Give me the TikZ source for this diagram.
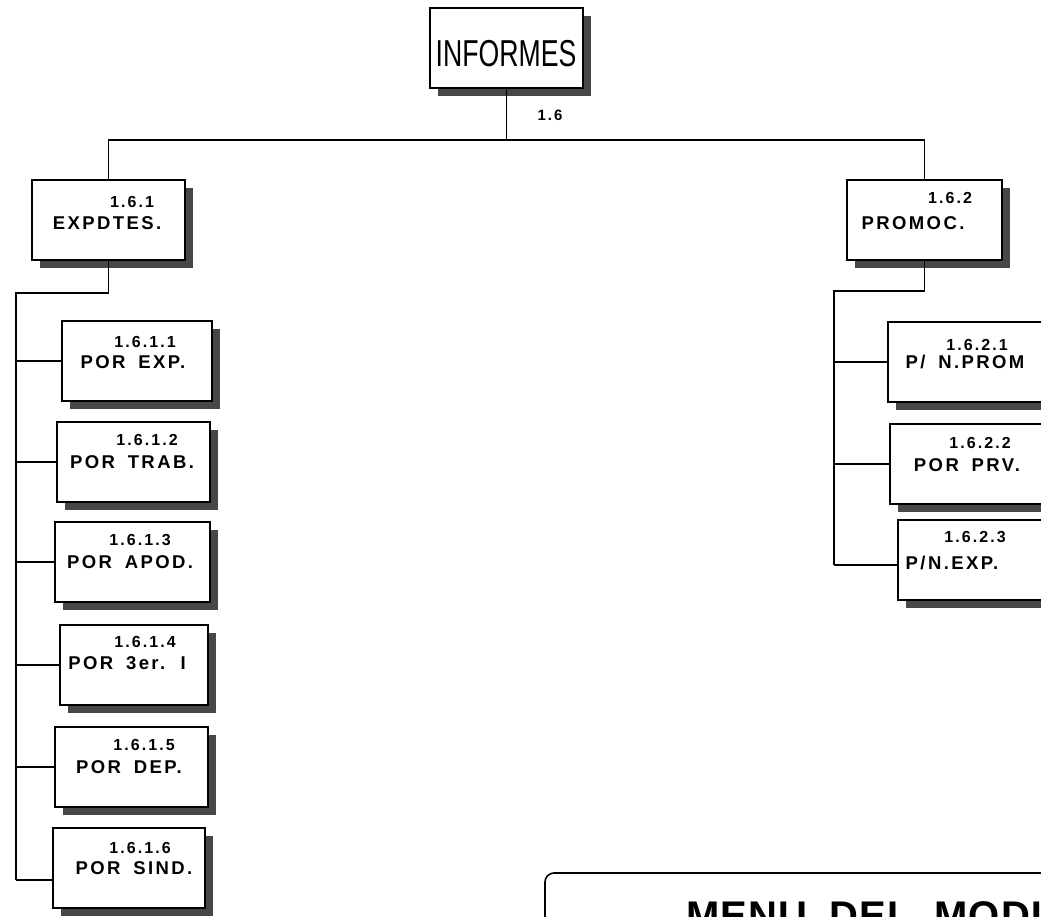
\documentclass[tikz,border=0pt]{standalone}
\usepackage{fontspec}
\setmainfont{Liberation Sans}
\newfontfamily\lblfont{Liberation Sans}[LetterSpace=13,WordSpace=1.7]
\newfontfamily\titfont{Liberation Sans}[FakeStretch=0.71]
\newfontfamily\menufont{Liberation Sans}[LetterSpace=3,WordSpace=1.8]
\usetikzlibrary{shadows}
\begin{document}
\begin{tikzpicture}[x=1pt,y=-1pt,
  box/.style={draw, line width=1.6pt, fill=white, inner sep=0pt, minimum height=80pt,
    drop shadow={shadow xshift=8pt, shadow yshift=-8pt, fill=black!72, opacity=1}},
  num/.style={font=\lblfont\bfseries\fontsize{16}{16}\selectfont, inner sep=0pt},
  txt/.style={font=\lblfont\bfseries\fontsize{18.5}{18.5}\selectfont, inner sep=0pt},
  conn/.style={line width=1.6pt}]
\useasboundingbox (0,0) rectangle (1041,917);
\clip (0,0) rectangle (1041,917);
\fill[white] (0,0) rectangle (1041,917);

% top
\node[box, minimum width=153pt] (inf) at (506.5,48) {};
\node[inner sep=0pt, font=\titfont\fontsize{37.5}{37.5}\selectfont] (inftxt) at (506,53.5) {INFORMES};

% level 2
\node[box, minimum width=153pt] (exp) at (108.5,220) {};
\node[num] (expn) at (132,202) {1.6.1};
\node[txt] (expt) at (107,223) {EXPDTES.};

\node[box, minimum width=155pt] (pro) at (924.5,220) {};
\node[num] (pron) at (950,198) {1.6.2};
\node[txt] (prot) at (913,223) {PROMOC.};

% left children
\node[box, minimum width=150pt] (c1) at (137,361) {};
\node[num] (c1n) at (145,342) {1.6.1.1};
\node[txt] (c1t) at (133,362) {POR EXP.};

\node[box, minimum width=153pt] (c2) at (133.5,462) {};
\node[num] (c2n) at (147,440) {1.6.1.2};
\node[txt] (c2t) at (132,462) {POR TRAB.};

\node[box, minimum width=155pt] (c3) at (132.5,562) {};
\node[num] (c3n) at (140,540) {1.6.1.3};
\node[txt] (c3t) at (130,562) {POR APOD.};

\node[box, minimum width=148pt] (c4) at (134,665) {};
\node[num] (c4n) at (145,642) {1.6.1.4};
\node[txt] (c4t) at (127,663) {POR 3er. I};

\node[box, minimum width=153pt] (c5) at (131.5,767) {};
\node[num] (c5n) at (144,745) {1.6.1.5};
\node[txt] (c5t) at (129,767) {POR DEP.};

\node[box, minimum width=152pt] (c6) at (129,868) {};
\node[num] (c6n) at (140,848) {1.6.1.6};
\node[txt] (c6t) at (134,868) {POR SIND.};

% right children
\node[box, minimum width=155pt] (r1) at (965.5,362) {};
\node[num] (r1n) at (977,345) {1.6.2.1};
\node[txt] (r1t) at (965,362) {P/ N.PROM};

\node[box, minimum width=155pt] (r2) at (967.5,464) {};
\node[num] (r2n) at (980,443) {1.6.2.2};
\node[txt] (r2t) at (967,465) {POR PRV.};

\node[box, minimum width=155pt] (r3) at (975.5,560) {};
\node[num] (r3n) at (975,537) {1.6.2.3};
\node[txt] (r3t) at (952,563) {P/N.EXP.};

% connectors
\draw[conn] (inf.south) -- ++(0,51) coordinate (bus);
\node[num, font=\lblfont\bfseries\fontsize{15}{15}\selectfont] (lbl) at (550,115) {1.6};
\draw[conn] (exp.north) |- (bus) -| (pro.north);

\coordinate (tlend) at (16,880);
\draw[conn] (exp.south) -- ++(0,32) -| (tlend);
\foreach \c in {c1,c2,c3,c4,c5}{\draw[conn] (\c.west -| tlend) -- (\c.west);}
\draw[conn] (tlend) -- (tlend -| c6.west);

\coordinate (trend) at (834,565);
\draw[conn] (pro.south) -- ++(0,30) -| (trend);
\draw[conn] (r1.west -| trend) -- (r1.west);
\draw[conn] (r2.west -| trend) -- (r2.west);
\draw[conn] (trend) -- (trend -| r3.west);

% bottom menu box
\draw[line width=1.6pt, rounded corners=9pt] (545,1000) -- (545,873) -- (1120,873);
\node[anchor=base west, inner sep=0pt, font=\menufont\bfseries\fontsize{40}{40}\selectfont] (menu) at (686,929) {MENU DEL MODULO};
\end{tikzpicture}
\end{document}
